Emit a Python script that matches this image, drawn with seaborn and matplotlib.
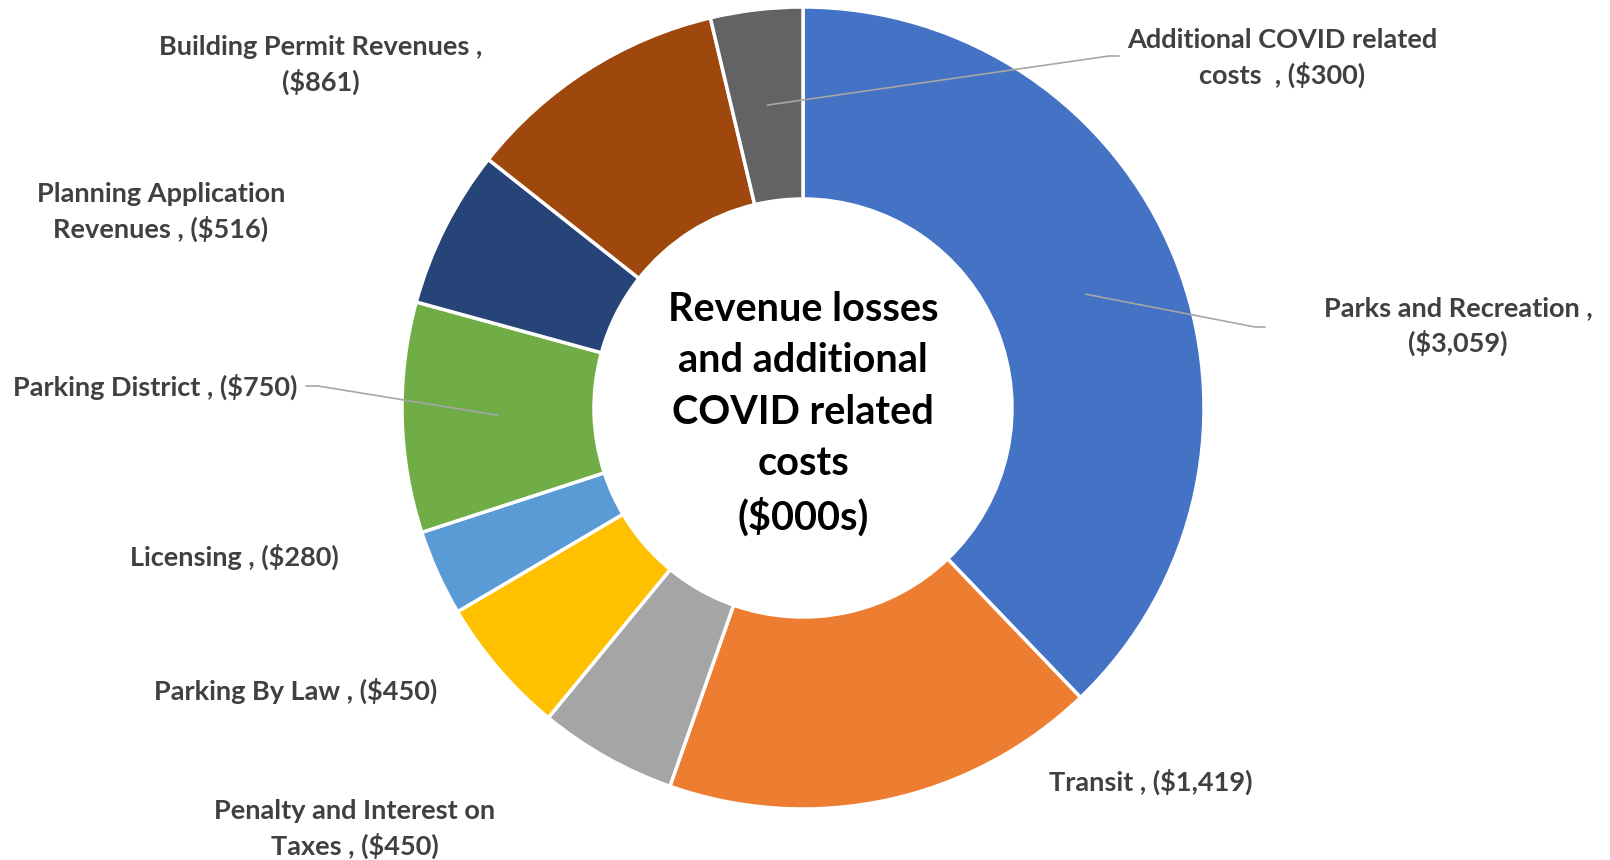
import numpy as np
import matplotlib
import matplotlib.pyplot as plt
import seaborn as sns

matplotlib.use('Agg')

# Data (in $000s), clockwise from 12 o'clock
categories = ["Parks and Recreation", "Transit", "Penalty and Interest on\nTaxes",
              "Parking By Law", "Licensing", "Parking District",
              "Planning Application\nRevenues", "Building Permit Revenues",
              "Additional COVID related\ncosts "]
losses = [3059, 1419, 450, 450, 280, 750, 516, 861, 300]
break_after_comma = [True, False, False, False, False, False, False, True, False]
colors = ["#4472C4", "#ED7D31", "#A5A5A5", "#FFC000", "#5B9BD5",
          "#70AD47", "#264478", "#9E480E", "#636363"]

# Label placement (pixel coords, y up) and which labels get a leader line
label_pos = [(1458, 534), (1151, 78), (355, 31), (296, 169), (234, 303),
             (155, 473), (161, 648), (321, 795), (1282, 802)]
leader_elbow = {0: [(1255, 533), (1265, 533)],
                5: [(318, 474), (306, 474)],
                8: [(1109, 804), (1119, 804)]}

sns.set_theme(style='white')
plt.rcParams['font.family'] = ['Lato', 'DejaVu Sans']

fig = plt.figure(figsize=(16.1, 8.6), dpi=100)
ax = fig.add_axes([0, 0, 1, 1])

cx, cy, R, ring = 803, 452, 401, 192
wedges, _ = ax.pie(losses, colors=colors, startangle=90, counterclock=False,
                   center=(cx, cy), radius=R,
                   wedgeprops=dict(width=ring, edgecolor='white', linewidth=2.5))

ax.set_xlim(0, 1610)
ax.set_ylim(0, 860)
ax.set_aspect('equal')
ax.axis('off')

# Data labels
for i, (name, v) in enumerate(zip(categories, losses)):
    sep = " ,\n" if break_after_comma[i] else " , "
    x, y = label_pos[i]
    ax.text(x, y, f"{name}{sep}(${v:,})", ha='center', va='center',
            fontsize=19.5, fontweight='bold', color='#404040', linespacing=1.4)

# Leader lines from the middle of the ring to the label
r_mid = R - ring / 2
for i, pts in leader_elbow.items():
    w = wedges[i]
    ang = np.deg2rad((w.theta1 + w.theta2) / 2)
    x0, y0 = cx + r_mid * np.cos(ang), cy + r_mid * np.sin(ang)
    xs = [x0] + [p[0] for p in pts]
    ys = [y0] + [p[1] for p in pts]
    ax.plot(xs, ys, color='#A6A6A6', lw=1.2)

# Centre title
ax.text(cx, 446, "Revenue losses\nand additional\nCOVID related\ncosts\n($000s)",
        ha='center', va='center', fontsize=28.5, fontweight='bold',
        color='black', linespacing=1.48)

plt.savefig('out.png', dpi=100)
